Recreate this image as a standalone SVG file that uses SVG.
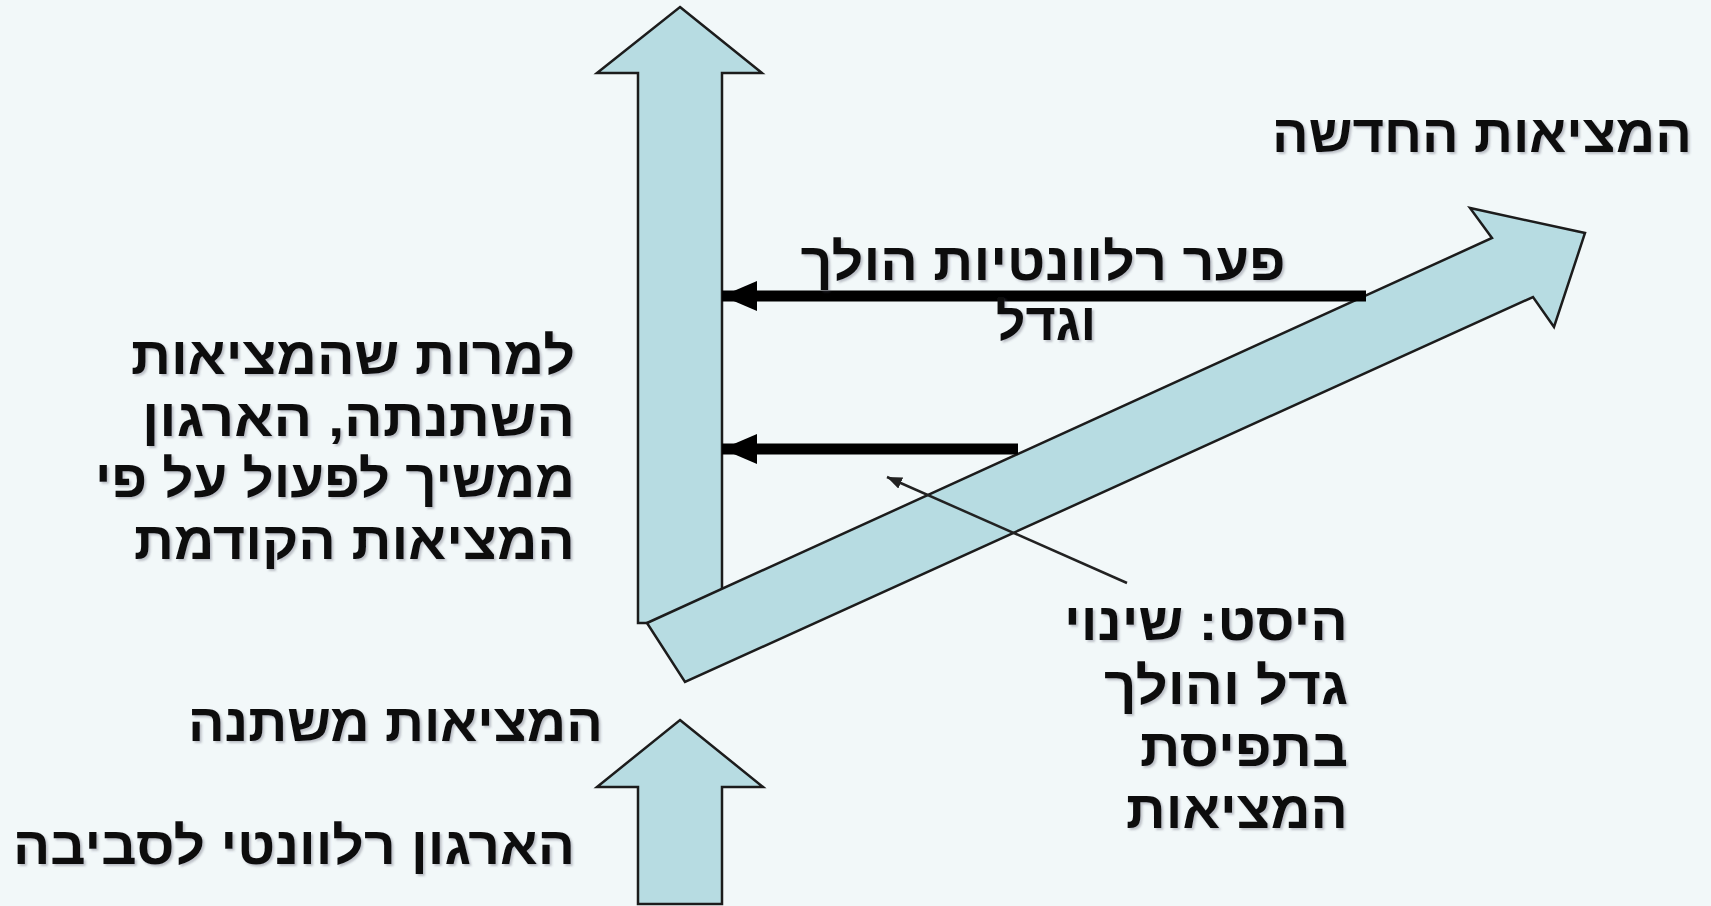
<svg xmlns="http://www.w3.org/2000/svg" width="1711" height="906" viewBox="0 0 1711 906">
<defs>
<style>
.bg{fill:#f2f8f9}
.blk{fill:#b7dce2;stroke:#1c1c1c;stroke-width:2.5;stroke-linejoin:miter}
.t{font-family:"Liberation Sans",Arial,"DejaVu Sans",sans-serif;font-size:52px;font-weight:bold;fill:#111;filter:url(#shadow)}
.thick{stroke:#000;stroke-width:11;fill:none}
.thin{stroke:#222;stroke-width:2.5;fill:none}
</style>
<filter id="shadow" x="-5%" y="-20%" width="110%" height="140%">
<feDropShadow dx="2" dy="2" stdDeviation="1" flood-color="#556" flood-opacity="0.35"/>
</filter>
<marker id="bigHead" markerUnits="userSpaceOnUse" markerWidth="36" markerHeight="32" refX="35" refY="15" orient="auto" viewBox="0 0 36 32">
<path d="M0,0 L35,15 L0,30 Z" fill="#000"/>
</marker>
<marker id="smallHead" markerUnits="userSpaceOnUse" markerWidth="16" markerHeight="12" refX="15" refY="6" orient="auto" viewBox="0 0 16 12">
<path d="M0,0 L15,6 L0,12 Z" fill="#222"/>
</marker>
</defs>
<rect class="bg" x="0" y="0" width="1711" height="906"/>
<g id="arrow-up-big">
<polygon class="blk" points="680,7 762,73 722,73 722,623 638,623 638,73 597,73"/>
</g>
<g id="arrow-diagonal">
<polygon class="blk" points="647,623 1492,238 1470,208 1585,233 1554,327 1533,297 685,682"/>
</g>
<g id="arrow-up-small">
<polygon class="blk" points="680,720 763,787 722,787 722,904 638,904 638,787 597,787"/>
</g>
<g id="connectors">
<line class="thick" x1="1366" y1="296" x2="722" y2="296" marker-end="url(#bigHead)"/>
<line class="thick" x1="1018" y1="449" x2="722" y2="449" marker-end="url(#bigHead)"/>
<line class="thin" x1="1127" y1="583" x2="887" y2="477" marker-end="url(#smallHead)"/>
</g>
<g id="label-new-reality">
<text class="t" x="1692" y="152" text-anchor="end" textLength="420" lengthAdjust="spacingAndGlyphs">המציאות החדשה</text>
</g>
<g id="label-gap">
<text class="t" x="1043" y="280" text-anchor="middle" textLength="485" lengthAdjust="spacingAndGlyphs">פער רלוונטיות הולך</text>
<text class="t" x="1046" y="340" text-anchor="middle">וגדל</text>
</g>
<g id="label-despite">
<text class="t" x="575" y="374" text-anchor="end" textLength="444" lengthAdjust="spacingAndGlyphs">למרות שהמציאות</text>
<text class="t" x="575" y="436" text-anchor="end" textLength="433" lengthAdjust="spacingAndGlyphs">השתנתה, הארגון</text>
<text class="t" x="575" y="497" text-anchor="end" textLength="480" lengthAdjust="spacingAndGlyphs">ממשיך לפעול על פי</text>
<text class="t" x="575" y="559" text-anchor="end" textLength="441" lengthAdjust="spacingAndGlyphs">המציאות הקודמת</text>
</g>
<g id="label-shift">
<text class="t" x="1348" y="640" text-anchor="end" textLength="284" lengthAdjust="spacingAndGlyphs">היסט: שינוי</text>
<text class="t" x="1348" y="704" text-anchor="end" textLength="244" lengthAdjust="spacingAndGlyphs">גדל והולך</text>
<text class="t" x="1348" y="766" text-anchor="end" textLength="208" lengthAdjust="spacingAndGlyphs">בתפיסת</text>
<text class="t" x="1348" y="828" text-anchor="end" textLength="222" lengthAdjust="spacingAndGlyphs">המציאות</text>
</g>
<g id="label-changing">
<text class="t" x="603" y="741" text-anchor="end" textLength="415" lengthAdjust="spacingAndGlyphs">המציאות משתנה</text>
</g>
<g id="label-relevant">
<text class="t" x="575" y="864" text-anchor="end" textLength="562" lengthAdjust="spacingAndGlyphs">הארגון רלוונטי לסביבה</text>
</g>
</svg>
